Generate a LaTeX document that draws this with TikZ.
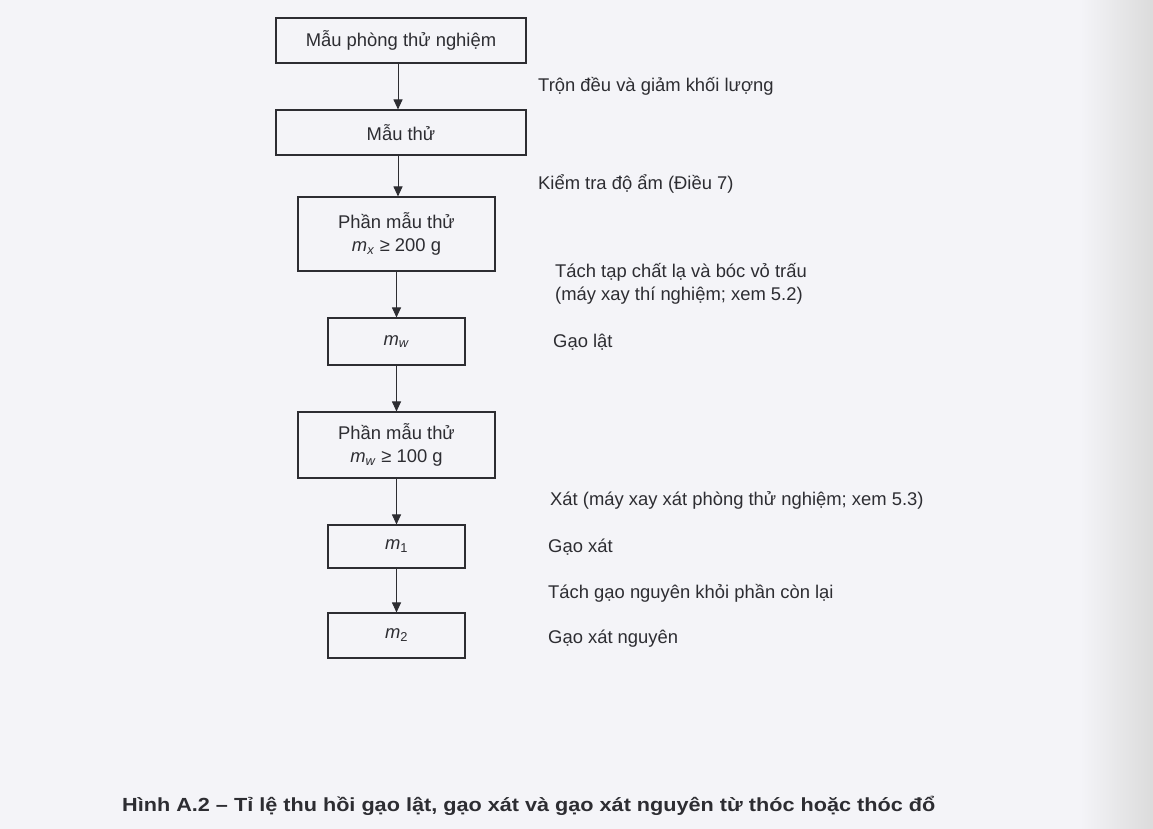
\documentclass[tikz,border=0pt]{standalone}
\usepackage{fontspec}
\setmainfont{Liberation Sans}
\usetikzlibrary{arrows.meta}
\definecolor{paper}{RGB}{244,244,248}
\definecolor{ink}{RGB}{45,45,50}
\newcommand{\mvar}[2]{\textit{m}\textsubscript{\textit{#2}}#1}
\begin{document}
\begin{tikzpicture}[x=1pt,y=-1pt,
  box/.style={draw=ink,line width=1.1pt,inner sep=0pt,align=center,text=ink,font=\fontsize{18.4}{23}\selectfont},
  lbl/.style={anchor=west,inner sep=0pt,align=left,text=ink,font=\fontsize{18.4}{23}\selectfont},
  flow/.style={draw=ink,line width=1pt,-{Triangle[length=10pt,width=9pt]}}]
\useasboundingbox (0,0) rectangle (1153,829);
\fill[paper] (0,0) rectangle (1153,829);
\shade[left color=paper,right color=black!14] (1080,0) rectangle (1153,829);
% boxes
\node[box,minimum width=250pt,minimum height=45pt] (b1) at (401,40.5) {Mẫu phòng thử nghiệm};
\node[box,minimum width=250pt,minimum height=45pt] (b2) at (401,132.5) {Mẫu thử};
\node[box,minimum width=197pt,minimum height=74pt] (b3) at (396.5,234) {Phần mẫu thử\\\mvar{ }{x}≥ 200 g};
\node[box,minimum width=137pt,minimum height=47pt] (b4) at (396.5,341.5) {\mvar{}{w}};
\node[box,minimum width=197pt,minimum height=66pt] (b5) at (396.5,445) {Phần mẫu thử\\\mvar{ }{w}≥ 100 g};
\node[box,minimum width=137pt,minimum height=43pt] (b6) at (396.5,546.5) {\mvar{}{\upshape 1}};
\node[box,minimum width=137pt,minimum height=45pt] (b7) at (396.5,635.5) {\mvar{}{\upshape 2}};
% arrows
\draw[flow] ([xshift=-3pt]b1.south) -- ([xshift=-3pt]b1.south |- b2.north);
\draw[flow] ([xshift=-3pt]b2.south) -- ([xshift=-3pt]b2.south |- b3.north);
\draw[flow] (b3.south) -- (b4.north);
\draw[flow] (b4.south) -- (b5.north);
\draw[flow] (b5.south) -- (b6.north);
\draw[flow] (b6.south) -- (b7.north);
% labels
\node[lbl] (l1) at (538,86) {Trộn đều và giảm khối lượng};
\node[lbl] (l2) at (538,184) {Kiểm tra độ ẩm (Điều 7)};
\node[lbl] (l3) at (555,284) {Tách tạp chất lạ và bóc vỏ trấu\\(máy xay thí nghiệm; xem 5.2)};
\node[lbl] (l4) at (553,342) {Gạo lật};
\node[lbl] (l5) at (550,500) {Xát (máy xay xát phòng thử nghiệm; xem 5.3)};
\node[lbl] (l6) at (548,547) {Gạo xát};
\node[lbl] (l7) at (548,593) {Tách gạo nguyên khỏi phần còn lại};
\node[lbl] (l8) at (548,639) {Gạo xát nguyên};
% caption
\node[anchor=west,inner sep=0pt,text=ink,font=\bfseries\fontsize{19}{22}\selectfont] (cap) at (122,806) {\resizebox{813pt}{\height}{Hình A.2 – Tỉ lệ thu hồi gạo lật, gạo xát và gạo xát nguyên từ thóc hoặc thóc đổ}};
\end{tikzpicture}
\end{document}
